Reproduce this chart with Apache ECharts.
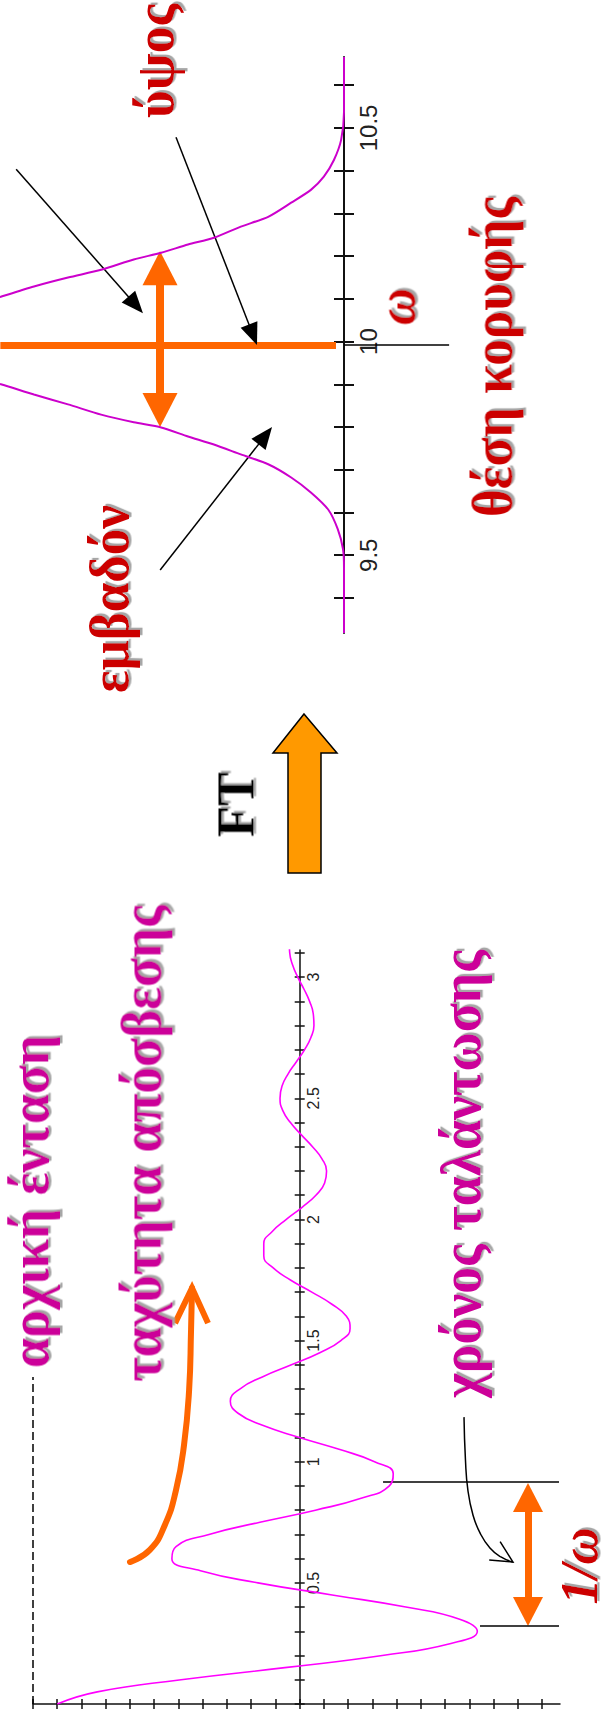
<!DOCTYPE html>
<html>
<head>
<meta charset="utf-8">
<script src="https://cdn.jsdelivr.net/npm/echarts@6/dist/echarts.min.js"></script>
<style>
  html, body { margin: 0; padding: 0; background: #fff; }
  #main { width: 609px; height: 1719px; }
</style>
</head>
<body>
<div id="main"></div>
<script>
// ---- Time domain: damped oscillation (time t, amplitude) ----
const timeT = [0, 0.05, 0.1, 0.15, 0.2, 0.25, 0.3, 0.35, 0.4, 0.45, 0.5, 0.55, 0.6, 0.65, 0.7, 0.75,
  0.8, 0.85, 0.9, 0.95, 1.0, 1.05, 1.1, 1.15, 1.2, 1.25, 1.3, 1.35, 1.4, 1.45, 1.5, 1.55,
  1.6, 1.65, 1.7, 1.75, 1.8, 1.85, 1.9, 1.95, 2.0, 2.05, 2.1, 2.15, 2.2, 2.25, 2.3, 2.35,
  2.4, 2.45, 2.5, 2.55, 2.6, 2.65, 2.7, 2.75, 2.8, 2.85, 2.9, 2.95, 3.0, 3.05, 3.1, 3.15];
const timeAmp = [1.000, 0.835, 0.489, 0.061, -0.341, -0.624, -0.733, -0.660, -0.438, -0.134, 0.172, 0.409, 0.527, 0.510, 0.374, 0.164,
  -0.065, -0.257, -0.370, -0.386, -0.309, -0.166, 0.001, 0.153, 0.254, 0.286, 0.247, 0.154, 0.034, -0.083, -0.170, -0.208,
  -0.193, -0.133, -0.050, 0.038, 0.109, 0.148, 0.148, 0.113, 0.055, -0.010, -0.067, -0.103, -0.111, -0.092, -0.053, -0.006,
  0.038, 0.070, 0.081, 0.073, 0.048, 0.014, -0.020, -0.046, -0.059, -0.056, -0.041, -0.018, 0.008, 0.029, 0.041, 0.043];
const timeTicks = [0, 0.1, 0.2, 0.3, 0.4, 0.5, 0.6, 0.7, 0.8, 0.9, 1, 1.1, 1.2, 1.3, 1.4, 1.5,
  1.6, 1.7, 1.8, 1.9, 2, 2.1, 2.2, 2.3, 2.4, 2.5, 2.6, 2.7, 2.8, 2.9, 3, 3.1];
const timeLabels = [0.5, 1, 1.5, 2, 2.5, 3];
const ampTicks = [-1.0, -0.9, -0.8, -0.7, -0.6, -0.5, -0.4, -0.3, -0.2, -0.1, 0, 0.1,
  0.2, 0.3, 0.4, 0.5, 0.6, 0.7, 0.8, 0.9, 1.0, 1.1];

// ---- Frequency domain: Lorentzian line (omega, intensity) ----
const lorentzOmega = [9.318, 9.40, 9.47, 9.514, 9.561, 9.607, 9.647, 9.682, 9.713, 9.736, 9.759, 9.778, 9.799,
  9.811, 9.829, 9.853, 9.876, 9.900, 9.950, 10.000, 10.050, 10.105, 10.129, 10.150, 10.168, 10.192,
  10.208, 10.227, 10.243, 10.269, 10.292, 10.325, 10.355, 10.386, 10.425, 10.472, 10.537, 10.600, 10.666];
const lorentzIntensity = [0, 0, 0, 0.002, 0.013, 0.033, 0.069, 0.110, 0.158, 0.215, 0.271, 0.325, 0.381,
  0.438, 0.506, 0.575, 0.646, 0.715, 0.870, 1.000, 0.870, 0.715, 0.646, 0.575, 0.506, 0.438,
  0.381, 0.325, 0.271, 0.215, 0.158, 0.110, 0.069, 0.042, 0.021, 0.006, 0, 0, 0];
const omegaTicks = [9.4, 9.5, 9.6, 9.7, 9.8, 9.9, 10, 10.1, 10.2, 10.3, 10.4, 10.5, 10.6];
const omegaLabels = [9.5, 10, 10.5];

const RED = '#cc0000';
const MAGENTA = '#cc0099';
const ORANGE = '#ff6600';

const chart = echarts.init(document.getElementById('main'), null, { renderer: 'svg' });

// Rotated (bottom-to-top) caption, stretched along its reading direction to a given length
const measureCtx = document.createElement('canvas').getContext('2d');
function vText(text, cx, cy, len, size, color, italic) {
  const font = (italic ? 'italic ' : '') + 'bold ' + size + 'px "Liberation Serif"';
  measureCtx.font = font;
  const w = measureCtx.measureText(text).width;
  const sx = len / w;
  return {
    type: 'text', x: cx, y: cy, rotation: Math.PI / 2, scaleX: sx, silent: true, z: 20,
    style: {
      text: text, font: font, fill: color,
      textAlign: 'center', textVerticalAlign: 'middle', align: 'center', verticalAlign: 'middle',
      textShadowColor: '#a6a6a6', textShadowOffsetX: 2 / sx, textShadowOffsetY: 2.5, textShadowBlur: 0.8
    }
  };
}

const axisBlack = { color: '#111', width: 2 };
const thinBlack = { color: '#111', width: 1.5 };
const noSplit = { show: false };
const labelFont = '"Liberation Sans", Arial, sans-serif';

function markLines(items) {
  return {
    silent: true, animation: false, symbol: ['none', 'none'],
    label: { show: false }, emphasis: { disabled: true },
    data: items
  };
}

const option = {
  animation: false,
  grid: [
    { left: 0, right: 0, top: 57, height: 576 },
    { left: 33, width: 527, top: 950, height: 754 }
  ],
  xAxis: [
    { gridIndex: 0, type: 'value', min: -0.5521, max: 0.7167, inverse: true, show: false,
      axisLine: { onZero: false }, splitLine: noSplit },
    { gridIndex: 1, type: 'value', min: -1.074, max: 1.1, inverse: true, position: 'bottom',
      axisLine: { onZero: false, lineStyle: thinBlack },
      axisTick: { customValues: ampTicks, length: 5, lineStyle: thinBlack },
      axisLabel: { show: false }, splitLine: noSplit },
    { gridIndex: 1, type: 'value', min: -1.074, max: 1.1, inverse: true, position: 'bottom',
      axisLine: { show: false, onZero: false },
      axisTick: { inside: true, customValues: ampTicks, length: 5, lineStyle: thinBlack },
      axisLabel: { show: false }, splitLine: noSplit }
  ],
  yAxis: [
    // omega axis, moved onto zero intensity
    { gridIndex: 0, type: 'value', min: 9.318, max: 10.666, position: 'right', offset: -265,
      axisLine: { onZero: false, lineStyle: axisBlack },
      axisTick: { customValues: omegaTicks, length: 10, lineStyle: axisBlack },
      axisLabel: { customValues: omegaLabels, rotate: 90, margin: 12, fontSize: 24,
        fontFamily: labelFont, color: '#222' },
      splitLine: noSplit },
    { gridIndex: 0, type: 'value', min: 9.318, max: 10.666, position: 'right', offset: -265,
      axisLine: { show: false, onZero: false },
      axisTick: { inside: true, customValues: omegaTicks, length: 10, lineStyle: axisBlack },
      axisLabel: { show: false }, splitLine: noSplit },
    // time axis, moved onto zero amplitude
    { gridIndex: 1, type: 'value', min: 0, max: 3.112, position: 'right', offset: -260.3,
      axisLine: { onZero: false, lineStyle: thinBlack },
      axisTick: { customValues: timeTicks, length: 5, lineStyle: thinBlack },
      axisLabel: { customValues: timeLabels, rotate: 90, margin: 6, fontSize: 16,
        fontFamily: labelFont, color: '#222' },
      splitLine: noSplit },
    { gridIndex: 1, type: 'value', min: 0, max: 3.112, position: 'right', offset: -260.3,
      axisLine: { show: false, onZero: false },
      axisTick: { inside: true, customValues: timeTicks, length: 5, lineStyle: thinBlack },
      axisLabel: { show: false }, splitLine: noSplit }
  ],
  series: [
    {
      name: 'Lorentzian', type: 'line', xAxisIndex: 0, yAxisIndex: 0, z: 5,
      data: lorentzOmega.map((w, i) => [lorentzIntensity[i], w]),
      symbol: 'none', smooth: 0.25, silent: true,
      lineStyle: { color: '#cc00cc', width: 2 },
      markLine: markLines([
        // peak position
        [{ coord: [0.716, 9.9918], lineStyle: { color: ORANGE, width: 7, type: 'solid' } }, { coord: [0.0167, 9.9918] }],
        [{ coord: [0, 9.9918], lineStyle: { color: '#000', width: 1.5, type: 'solid' } }, { coord: [-0.219, 9.9918] }],
        // width
        [{ coord: [0.3833, 10.1719], symbol: 'triangle', symbolSize: [35, 34], lineStyle: { color: ORANGE, width: 8, type: 'solid' } },
         { coord: [0.3833, 9.8398], symbol: 'triangle', symbolSize: [35, 34] }],
        // pointers
        [{ coord: [0.683, 10.4035], lineStyle: { color: '#000', width: 1.5, type: 'solid' } },
         { coord: [0.434, 10.0858], symbol: 'triangle', symbolSize: [18, 22] }],
        [{ coord: [0.35, 10.4784], lineStyle: { color: '#000', width: 1.5, type: 'solid' } },
         { coord: [0.1896, 10.0159], symbol: 'triangle', symbolSize: [18, 22] }],
        [{ coord: [0.383, 9.4655], lineStyle: { color: '#000', width: 1.5, type: 'solid' } },
         { coord: [0.164, 9.7797], symbol: 'triangle', symbolSize: [18, 22] }]
      ])
    },
    {
      name: 'Signal', type: 'line', xAxisIndex: 1, yAxisIndex: 2, z: 5,
      data: timeT.map((t, i) => [timeAmp[i], t]),
      symbol: 'none', smooth: 0.5, silent: true,
      lineStyle: { color: '#ff00ff', width: 1.6 },
      markLine: markLines([
        // initial intensity
        [{ coord: [1.099, 0], lineStyle: { color: '#000', width: 1.5, type: [8, 4] } }, { coord: [1.099, 1.35] }],
        // oscillation period
        [{ coord: [-0.942, 0.852], symbol: 'triangle', symbolSize: [30, 29], lineStyle: { color: ORANGE, width: 7, type: 'solid' } },
         { coord: [-0.942, 0.382], symbol: 'triangle', symbolSize: [30, 29] }],
        [{ coord: [-0.344, 0.916], lineStyle: { color: '#000', width: 1.5, type: 'solid' } }, { coord: [-1.07, 0.916] }],
        [{ coord: [-0.744, 0.322], lineStyle: { color: '#000', width: 1.5, type: 'solid' } }, { coord: [-1.07, 0.322] }]
      ])
    },
    // curved orange arrow (decay rate)
    {
      type: 'line', xAxisIndex: 1, yAxisIndex: 2, z: 6, silent: true, symbol: 'none', smooth: 0.5,
      lineStyle: { color: ORANGE, width: 6, cap: 'round' },
      data: [[0.700, 0.586], [0.618, 0.636], [0.556, 0.739], [0.510, 0.883], [0.477, 1.069],
             [0.456, 1.296], [0.448, 1.544], [0.444, 1.717]]
    },
    {
      type: 'line', xAxisIndex: 1, yAxisIndex: 2, z: 6, silent: true, symbol: 'none',
      lineStyle: { color: ORANGE, width: 6, join: 'miter' },
      data: [[0.514, 1.572], [0.444, 1.717], [0.378, 1.572]]
    },
    // curved black arrow (oscillation time)
    {
      type: 'line', xAxisIndex: 1, yAxisIndex: 2, z: 6, silent: true, symbol: 'none', smooth: 0.5,
      lineStyle: { color: '#000', width: 1.5 },
      data: [[-0.678, 1.184], [-0.684, 1.007], [-0.694, 0.883], [-0.715, 0.780], [-0.744, 0.706],
             [-0.785, 0.644], [-0.830, 0.607], [-0.880, 0.586]]
    },
    {
      type: 'line', xAxisIndex: 1, yAxisIndex: 2, z: 6, silent: true, symbol: 'none',
      lineStyle: { color: '#000', width: 1.5, join: 'miter' },
      data: [[-0.782, 0.594], [-0.880, 0.586], [-0.827, 0.670]]
    }
  ],
  graphic: {
    elements: [
      // Fourier transform arrow
      {
        type: 'polygon', silent: true, z: 20,
        shape: { points: [[304, 714], [337, 753], [321, 753], [321, 873], [288, 873], [288, 753], [273, 753]] },
        style: { fill: '#ff9900', stroke: '#000', lineWidth: 1.5 }
      },
      vText('FT', 235.5, 804.5, 65, 52, '#000', false),
      vText('ύψος', 155, 61, 114, 54, RED, false),
      vText('θέση κορυφής', 492.5, 357, 320, 56, RED, false),
      vText('εμβαδόν', 109, 599, 188, 56, RED, false),
      vText('ω', 396.5, 306.5, 37, 54, RED, true),
      vText('αρχική ένταση', 30, 1201.5, 333, 54, MAGENTA, false),
      vText('ταχύτητα απόσβεσης', 140.5, 1143.5, 477, 58, MAGENTA, false),
      vText('χρόνος ταλάντωσης', 460, 1174, 448, 58, MAGENTA, false),
      vText('1/ω', 579, 1566, 77, 52, RED, true)
    ]
  }
};

chart.setOption(option);
</script>
</body>
</html>
